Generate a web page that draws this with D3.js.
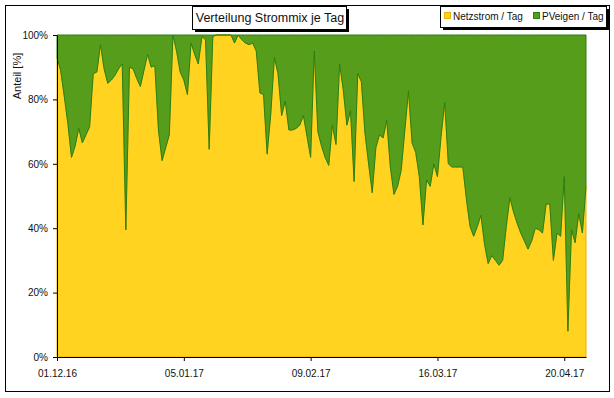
<!DOCTYPE html>
<html lang="de">
<head>
<meta charset="utf-8">
<title>Verteilung Strommix je Tag</title>
<script src="https://cdn.jsdelivr.net/npm/d3@7"></script>
<style>
  body { margin: 0; background: #fff; }
  text { font-family: "Liberation Sans", Arial, sans-serif; fill: #111; }
</style>
</head>
<body>
<script>
// Netzstrom-Anteil pro Tag in %, ab 01.12.16
var startDatum = "01.12.16";
var netzAnteil = [
  93, 89, 81, 72.5, 62, 65.5, 71, 66.5, 69, 71.5,
  88, 88.5, 97, 89.5, 85, 86, 87.5, 89.5, 91, 39.5,
  90, 89.5, 86.5, 84, 89, 94, 90, 90.5, 70.5, 61,
  65, 69, 100, 95, 88.5, 86, 81.5, 97.5, 94, 91,
  99.5, 98.5, 64.5, 99.5, 100, 100, 100, 100, 100, 97.5,
  100, 98.5, 97.5, 97, 97.5, 95, 82, 81.5, 63, 75.5,
  93, 88, 75, 79.5, 70.5, 70.5, 71, 72, 75, 68.5,
  62, 95, 70, 65.5, 62, 59.5, 72, 66, 91, 83,
  72, 76.5, 54.5, 88, 85.5, 69.5, 60, 51, 65, 69,
  68, 73.5, 59, 50.5, 53, 58, 70.5, 82.5, 66.5, 63.5,
  56, 41, 55, 53, 60, 56, 68.5, 79, 60, 59,
  59, 59, 59, 49, 40.5, 37.5, 40.5, 44, 35, 29,
  31.5, 30, 28.5, 30, 40.5, 49.5, 45, 41.5, 38.5, 36,
  33.5, 36, 40, 39.5, 38.5, 47.5, 47.5, 30, 38.5, 37.5,
  56, 8, 39.5, 35.5, 44.5, 38.5, 53
];
var serien = ["Netzstrom / Tag", "PVeigen / Tag"];
var farben = ["#FFD320", "#579D1C"];
var randFarben = ["#e9b000", "#2a7f12"];
var xTickLabels = ["01.12.16", "05.01.17", "09.02.17", "16.03.17", "20.04.17"];
var yTicks = [0, 20, 40, 60, 80, 100];

var W = 614, H = 398;
var plot = {left: 57, right: 586, top: 35, bottom: 357};

var parseDate = d3.timeParse("%d.%m.%y");
var formatDate = d3.timeFormat("%d.%m.%y");

var start = parseDate(startDatum);
var rows = netzAnteil.map(function(v, i) {
  return {date: d3.timeDay.offset(start, i), netz: v, pv: 100 - v};
});

var svg = d3.select("body").append("svg")
    .attr("width", W)
    .attr("height", H);

// aussenrahmen
svg.append("rect")
    .attr("x", 5.5).attr("y", 5.5)
    .attr("width", 604).attr("height", 386)
    .attr("fill", "#fff")
    .attr("stroke", "#000");

var xScale = d3.scaleTime()
    .domain(d3.extent(rows, function(d) { return d.date; }))
    .range([plot.left, plot.right]);

var yScale = d3.scaleLinear()
    .domain([0, 100])
    .range([plot.bottom, plot.top]);

var stack = d3.stack().keys(["netz", "pv"]);
var layers = stack(rows);

var area = d3.area()
    .x(function(d) { return xScale(d.data.date); })
    .y0(function(d) { return yScale(d[0]); })
    .y1(function(d) { return yScale(d[1]); });

svg.append("g").selectAll("path")
    .data(layers)
    .enter().append("path")
    .attr("d", area)
    .attr("fill", function(d, i) { return farben[i]; })
    .attr("stroke", function(d, i) { return randFarben[i]; })
    .attr("stroke-width", 1)
    .attr("stroke-linejoin", "miter");

// achsen
var yAxis = d3.axisLeft(yScale)
    .tickValues(yTicks)
    .tickSize(4)
    .tickSizeOuter(0)
    .tickPadding(5)
    .tickFormat(function(d) { return d + "%"; });

var xAxis = d3.axisBottom(xScale)
    .tickValues(xTickLabels.map(parseDate))
    .tickSize(4)
    .tickSizeOuter(0)
    .tickPadding(9)
    .tickFormat(formatDate);

var gy = svg.append("g")
    .attr("transform", "translate(" + plot.left + ",0)")
    .call(yAxis);

var gx = svg.append("g")
    .attr("transform", "translate(0," + plot.bottom + ")")
    .call(xAxis);

[gx, gy].forEach(function(g) {
  g.selectAll("path, line").attr("stroke", "#000");
  g.selectAll("text")
      .attr("font-family", "Liberation Sans, Arial, sans-serif")
      .attr("font-size", 10)
      .attr("fill", "#111");
});

svg.append("text")
    .attr("transform", "translate(21,76) rotate(-90)")
    .attr("text-anchor", "middle")
    .attr("font-size", 11)
    .text("Anteil [%]");

// titel mit schatten
var titel = svg.append("g");
titel.append("rect")
    .attr("x", 195).attr("y", 9)
    .attr("width", 154).attr("height", 23)
    .attr("fill", "#000");
titel.append("rect")
    .attr("x", 192.5).attr("y", 6.5)
    .attr("width", 154).attr("height", 23)
    .attr("fill", "#fff")
    .attr("stroke", "#000");
titel.append("text")
    .attr("x", 270).attr("y", 22)
    .attr("text-anchor", "middle")
    .attr("font-size", 12.5)
    .attr("font-weight", "normal")
    .text("Verteilung Strommix je Tag");

// legende
var leg = svg.append("g");
leg.append("rect")
    .attr("x", 443).attr("y", 9)
    .attr("width", 166).attr("height", 21)
    .attr("fill", "#000");
leg.append("rect")
    .attr("x", 440.5).attr("y", 6.5)
    .attr("width", 166).attr("height", 21)
    .attr("fill", "#fff")
    .attr("stroke", "#000");

var legX = [444, 533];
serien.forEach(function(name, i) {
  leg.append("rect")
      .attr("x", legX[i] + 0.5).attr("y", 12.5)
      .attr("width", 6).attr("height", 6)
      .attr("fill", farben[i])
      .attr("stroke", randFarben[i]);
  leg.append("text")
      .attr("x", legX[i] + 9).attr("y", 20)
      .attr("font-size", 10)
      .text(name);
});
</script>
</body>
</html>
